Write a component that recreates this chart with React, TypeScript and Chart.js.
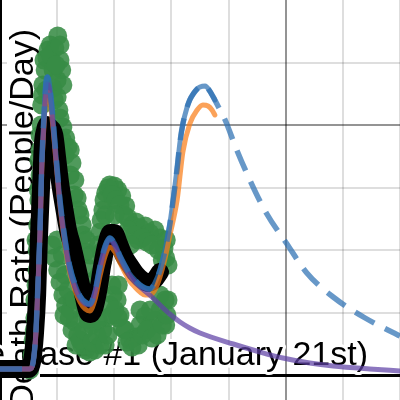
import React, { useEffect, useRef } from "react";
import { Chart, registerables } from "chart.js";

Chart.register(...registerables);

// ---- Data (x = days since case #1, y = deaths per day) ----
const greenDays = [52, 56, 58, 61, 61, 65, 65, 66, 68, 70, 70, 72, 73, 75, 79, 82, 84, 91, 96, 101, 105, 108, 100, 93,
  100, 103, 110, 115, 119, 126, 131, 135, 140, 145, 149, 154,
  91, 96, 101, 105, 110, 115, 121, 126, 131, 136, 143, 150, 157, 166, 175, 161, 168, 173, 177,
  175, 180, 185, 192, 200, 206, 213, 220, 224,
  231, 238, 245, 254, 262, 271, 280, 287, 290,
  180, 187, 192, 198, 205, 210, 219, 227, 236, 245, 254, 262, 271, 280, 289, 290,
  60, 63, 63, 67, 68, 70, 74, 77, 88, 93, 81, 88, 98, 105, 110, 95,
  105, 109, 114, 123, 123, 130, 137, 144, 151, 158,
  100, 109, 114, 119, 123, 126, 133, 140, 147, 154, 161, 170, 172, 166, 180, 140, 149, 131, 112,
  172, 177, 182, 189, 196, 203, 210, 217, 224, 184, 201,
  235, 242, 249, 257, 266, 277, 284, 294, 228, 291,
  184, 189, 196, 201, 207, 214, 222, 231, 242, 249, 257, 266, 275, 284, 292, 294, 196, 207, 280, 263, 245];
const greenDeaths = [40, 160, 280, 456, 600, 840, 1000, 1200, 1400, 1600, 1800, 2000, 2160, 2320, 2440, 2536, 2600, 2504, 2616, 2712, 2520, 2440, 2360, 2296,
  2224, 2120, 1984, 1896, 1824, 1696, 1560, 1416, 1280, 1120, 984, 856,
  1040, 936, 840, 744, 640, 560, 456, 600, 424, 320, 240, 200, 184, 200, 240, 400, 600, 800, 984,
  1144, 1320, 1456, 1520, 1512, 1480, 1432, 1352, 1256,
  1200, 1224, 1176, 1192, 1136, 1160, 1096, 1016, 936,
  360, 456, 560, 640, 600, 480, 360, 280, 304, 400, 472, 392, 440, 520, 600, 400,
  360, 720, 1080, 1480, 1720, 1920, 2240, 2520, 2640, 2440, 2280, 2560, 2480, 2640, 2320, 2200,
  2056, 1880, 1760, 1800, 1600, 1440, 1320, 1200, 1080, 960,
  1080, 960, 800, 680, 520, 360, 240, 280, 360, 440, 264, 320, 440, 760, 920, 600, 520, 600, 480,
  1040, 1240, 1400, 1496, 1440, 1400, 1360, 1280, 1160, 1280, 1280,
  1120, 1080, 1096, 1064, 1040, 1000, 920, 880, 1040, 1080,
  240, 320, 480, 520, 456, 376, 264, 224, 240, 320, 360, 296, 320, 400, 480, 600, 720, 720, 640, 520, 520];

const avgDays = [0, 49, 56, 61, 65, 68, 72, 75, 79, 82, 88, 95, 100, 105, 112, 119, 126, 133, 140, 147, 154, 159, 165, 172, 179, 186, 193, 200, 207, 217, 228, 238, 249, 259, 270, 280];
const avgDeaths = [48, 48, 104, 320, 640, 1080, 1520, 1840, 1960, 2000, 1980, 1920, 1736, 1544, 1344, 1160, 1040, 900, 760, 616, 496, 488, 536, 680, 880, 1040, 1136, 1136, 1064, 952, 872, 808, 760, 736, 760, 824];

const purpleDays = [0, 52, 58, 63, 66, 70, 73, 77, 80, 83, 86, 91, 98, 105, 114, 122, 131, 140, 149, 157, 166, 175, 184, 192, 201, 210, 219, 227, 236, 245, 262, 280, 297, 315, 332, 350, 408, 455, 495, 542, 583, 647, 700];
const purpleDeaths = [48, 48, 104, 344, 664, 1136, 1640, 2024, 2264, 2328, 2296, 2088, 1720, 1368, 1048, 840, 704, 616, 568, 560, 656, 856, 1016, 1080, 1032, 936, 856, 792, 744, 704, 640, 560, 488, 424, 376, 336, 248, 184, 136, 96, 72, 48, 32];

const orangeDays = [0, 52, 58, 63, 66, 70, 73, 77, 80, 83, 86, 91, 98, 105, 114, 122, 131, 140, 149, 157, 166, 175, 184, 192, 201, 210, 219, 227, 236, 245, 254, 262, 271, 280, 289, 297, 310, 320, 332, 345, 355, 364, 371, 376];
const orangeDeaths = [48, 48, 104, 344, 664, 1120, 1624, 2000, 2216, 2264, 2232, 2056, 1704, 1352, 1032, 824, 680, 584, 528, 512, 600, 792, 952, 1024, 984, 896, 816, 752, 704, 664, 640, 640, 680, 784, 936, 1112, 1400, 1784, 2008, 2120, 2160, 2152, 2120, 2080];

const blueDays = [0, 52, 58, 63, 66, 70, 73, 77, 80, 83, 86, 91, 98, 105, 114, 122, 131, 140, 149, 157, 166, 175, 184, 192, 201, 210, 219, 227, 236, 245, 254, 262, 271, 280, 289, 297, 303, 310, 315, 320, 327, 332, 338, 345, 350, 359, 367, 376];
const blueDeaths = [48, 48, 104, 360, 680, 1160, 1680, 2080, 2320, 2384, 2344, 2136, 1760, 1400, 1080, 872, 728, 632, 584, 568, 664, 872, 1032, 1096, 1048, 952, 872, 808, 760, 720, 696, 688, 736, 840, 1000, 1200, 1400, 1656, 1864, 2008, 2136, 2200, 2248, 2288, 2304, 2312, 2272, 2200];
const forecastDays = [385, 394, 413, 438, 466, 501, 537, 583, 639, 700];
const forecastDeaths = [2120, 2040, 1816, 1552, 1296, 1056, 816, 624, 456, 312];

const xTicks = [0, 100, 200, 300, 400, 500, 600, 700];
const yTicks = [0, 500, 1000, 1500, 2000, 2500];

const xTitle = "Days Since Case #1 (January 21st)";
const yTitle = "Death Rate (People/Day)";

const pts = (xs: number[], ys: number[]) => xs.map((x, i) => ({ x, y: ys[i] }));

const FONT = "34px 'Liberation Sans', Arial, sans-serif";

const titlePlugin = {
  id: "axisTitles",
  beforeDatasetsDraw(chart: any) {
    const ctx = chart.ctx as CanvasRenderingContext2D;
    ctx.save();
    ctx.font = FONT;
    ctx.lineJoin = "round";
    ctx.strokeStyle = "#fff";
    ctx.lineWidth = 6;
    ctx.fillStyle = "#000";
    ctx.textBaseline = "alphabetic";
    // x title
    ctx.textAlign = "right";
    ctx.strokeText(xTitle, 368, 365);
    ctx.fillText(xTitle, 368, 365);
    // y title (rotated) on a white label box
    const w = ctx.measureText(yTitle).width;
    ctx.fillStyle = "#fff";
    ctx.fillRect(7, 27, 33, w + 4);
    ctx.fillStyle = "#000";
    ctx.translate(32.5, 29);
    ctx.rotate(-Math.PI / 2);
    ctx.textAlign = "right";
    ctx.fillText(yTitle, 0, 0);
    ctx.restore();
  },
};

export default function App() {
  const ref = useRef<HTMLCanvasElement>(null);
  useEffect(() => {
    if (!ref.current) return;
    const line = (data: any[], color: string, width: number, order: number, extra: any = {}) => ({
      type: "line",
      data,
      borderColor: color,
      borderWidth: width,
      pointRadius: 0,
      showLine: true,
      fill: false,
      cubicInterpolationMode: "monotone",
      borderCapStyle: "round",
      borderJoinStyle: "round",
      order,
      ...extra,
    });
    const chart = new Chart(ref.current, {
      type: "scatter",
      data: {
        datasets: [
          line(pts(blueDays.concat(forecastDays), blueDeaths.concat(forecastDeaths)), "rgba(45,112,179,0.72)", 5.5, 1, {
            borderDash: [22, 12],
            borderCapStyle: "butt",
          }),
          line(pts(purpleDays, purpleDeaths), "rgba(96,66,166,0.72)", 5, 2),
          line(pts(orangeDays, orangeDeaths), "rgba(250,126,25,0.72)", 5, 3),
          line(pts(blueDays, blueDeaths), "rgba(45,112,179,0.72)", 5, 4),
          line(pts(avgDays, avgDeaths), "#000", 18, 5),
          {
            type: "scatter",
            data: pts(greenDays, greenDeaths),
            backgroundColor: "rgba(56,140,70,0.88)",
            borderWidth: 0,
            pointRadius: 9.5,
            order: 6,
          },
        ] as any,
      },
      options: {
        animation: false,
        responsive: false,
        maintainAspectRatio: false,
        layout: { padding: 0, autoPadding: false },
        plugins: { legend: { display: false }, tooltip: { enabled: false }, title: { display: false } },
        events: [],
        scales: {
          x: {
            type: "linear",
            min: 0,
            max: 700,
            afterBuildTicks: (s: any) => {
              s.ticks = xTicks.map((v) => ({ value: v }));
            },
            ticks: { display: false },
            border: { display: false },
            grid: {
              drawTicks: false,
              color: (c: any) =>
                c.tick.value === 0 ? "#000" : c.tick.value % 500 === 0 ? "rgba(0,0,0,0.42)" : "rgba(0,0,0,0.13)",
              lineWidth: (c: any) => (c.tick.value === 0 ? 4 : 2),
            },
          },
          y: {
            type: "linear",
            min: -200,
            max: 3000,
            afterBuildTicks: (s: any) => {
              s.ticks = yTicks.map((v) => ({ value: v }));
            },
            ticks: { display: false },
            border: { display: false },
            grid: {
              drawTicks: false,
              color: (c: any) =>
                c.tick.value === 0 ? "#000" : c.tick.value % 2000 === 0 ? "rgba(0,0,0,0.42)" : "rgba(0,0,0,0.13)",
              lineWidth: (c: any) => (c.tick.value === 0 ? 3 : 2),
            },
          },
        },
      } as any,
      plugins: [titlePlugin],
    });
    return () => chart.destroy();
  }, []);
  return (
    <div style={{ position: "fixed", left: 0, top: 0, width: 400, height: 400, background: "#fff" }}>
      <canvas ref={ref} width={400} height={400} style={{ display: "block" }} />
    </div>
  );
}
